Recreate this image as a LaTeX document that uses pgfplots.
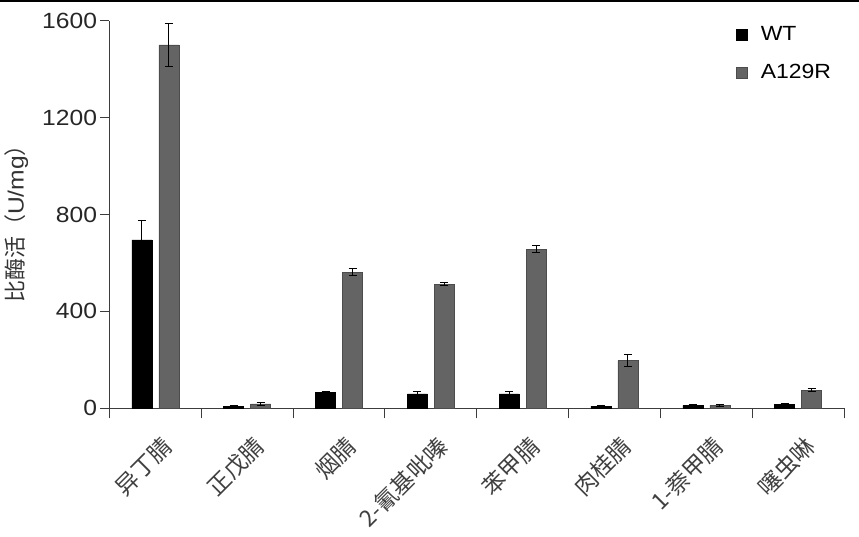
\documentclass[border=0pt]{standalone}
\usepackage{fontspec}
\setmainfont{Liberation Sans}[FakeStretch=1.12]
\newfontfamily\cjk{Noto Sans CJK SC}
\usepackage{pgfplots}
\pgfplotsset{compat=1.18}
\usepackage{pgfplotstable}
\definecolor{wtc}{RGB}{0,0,0}
\definecolor{mutc}{RGB}{100,100,100}
\definecolor{axc}{RGB}{60,60,60}

\pgfplotstableread{
x wt wte mu mue
0 695 82 1500 90
1 8 3 18 5
2 65 5 562 14
3 60 10 513 8
4 60 11 657 13
5 8 3 197 25
6 12 3 12 3
7 17 2 75 5
}\data

\begin{document}
\begin{tikzpicture}
\begin{axis}[
  scale only axis, width=734.5pt, height=387.6pt,
  at={(0,0)}, anchor=south west,
  ybar=7pt, bar width=20pt,
  xmin=-0.5, xmax=7.5, ymin=0, ymax=1600,
  ytick={0,400,800,1200,1600},
  xtick={0,...,7},
  xticklabels={异丁腈,正戊腈,烟腈,2-氰基吡嗪,苯甲腈,肉桂腈,1-萘甲腈,噻虫啉},
  minor xtick={-0.5,0.5,...,7.5},
  axis lines*=left,
  tick align=outside,
  major x tick style={draw=none},
  major tick length=9pt, minor tick length=10pt,
  every tick/.style={axc, line width=1pt},
  minor x tick style={axc, line width=1pt},
  axis line style={axc, line width=1pt},
  /pgf/number format/assume math mode=true,
  /pgf/number format/1000 sep={},
  yticklabel style={font=\fontsize{22}{26}\selectfont, text=black!85},
  xticklabel style={font=\cjk\fontsize{23}{27}\selectfont, xshift=5pt, yshift=-17pt, rotate=45, anchor=north east, text=black!75, inner sep=0pt},
  ylabel={{\cjk 比酶活（}U/mg{\cjk ）}},
  ylabel style={font=\fontsize{22}{26}\selectfont, at={(axis description cs:0,0.5)}, yshift=93pt, xshift=-4pt, anchor=center, text=black!80},
  legend style={draw=none, fill=none, at={(0.852,1)}, anchor=north west, yshift=-4pt,
    font=\fontsize{20.5}{24}\selectfont, row sep=18pt, inner sep=0pt},
  legend cell align=left,
  legend image code/.code={\path[#1] (0pt,-5.5pt) rectangle (11pt,5.5pt); \path[draw=none, fill=none] (0pt,0pt) -- (23pt,0pt);},
  error bars/y dir=both, error bars/y explicit,
  error bars/error bar style={black, line width=1pt},
  error bars/error mark options={rotate=90, mark size=4pt, line width=1pt, black},
]
\addplot[fill=wtc, draw=black, line width=0.5pt] table[x=x, y=wt, y error=wte] {\data};
\addplot[fill=mutc, draw=black!70, line width=0.5pt] table[x=x, y=mu, y error=mue] {\data};
\legend{WT, A129R}
\end{axis}
\draw[line width=2pt] (-109.5pt,407.3pt) -- (749.5pt,407.3pt);
\pgfresetboundingbox
\path[use as bounding box] (-109.5pt,-128.7pt) rectangle (749.5pt,408.3pt);
\end{tikzpicture}
\end{document}
